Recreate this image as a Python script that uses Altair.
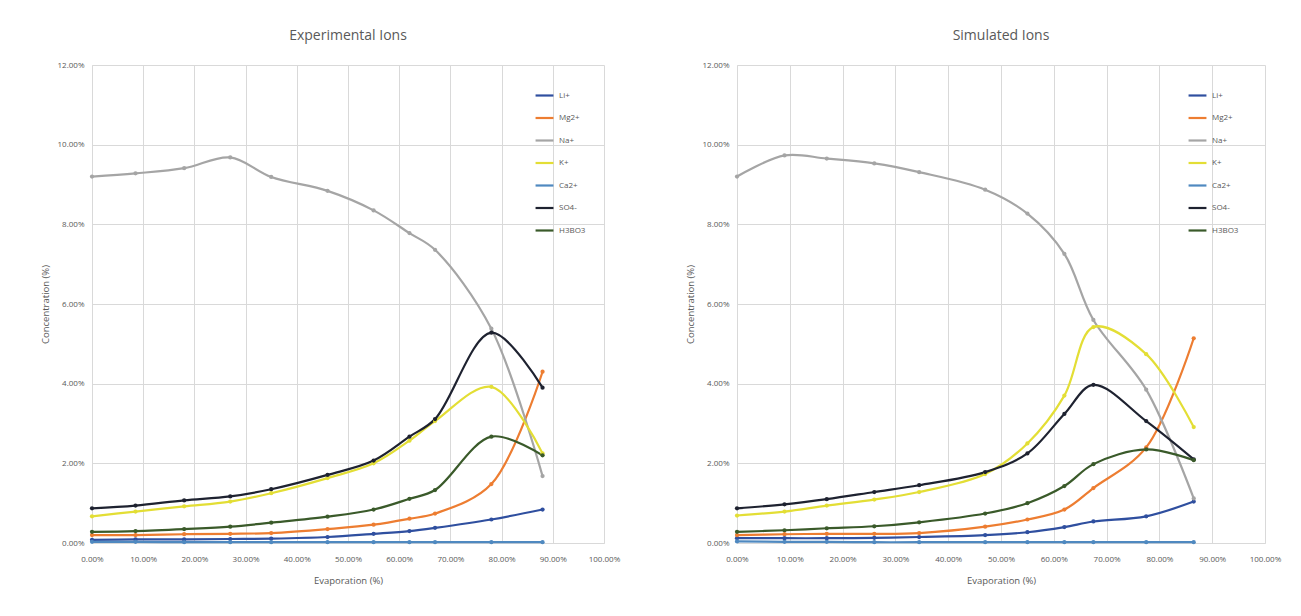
import altair as alt
import pandas as pd

series = ["Li+", "Mg2+", "Na+", "K+", "Ca2+", "SO4-", "H3BO3"]
colors = ["#2F4F9F", "#ED7D31", "#A5A5A5", "#E3DE35", "#4F89C0", "#1E2230", "#3A5A2A"]

# Experimental (values in %)
exp_x = [0, 8.5, 18, 27, 35, 46, 55, 62, 67, 78, 88]
exp_li = [0.08, 0.09, 0.09, 0.10, 0.11, 0.15, 0.23, 0.30, 0.38, 0.59, 0.84]
exp_mg = [0.20, 0.20, 0.22, 0.23, 0.25, 0.35, 0.46, 0.61, 0.74, 1.48, 4.30]
exp_na = [9.20, 9.28, 9.41, 9.68, 9.19, 8.84, 8.35, 7.78, 7.36, 5.38, 1.68]
exp_k = [0.67, 0.79, 0.92, 1.04, 1.25, 1.63, 2.00, 2.57, 3.06, 3.92, 2.25]
exp_ca = [0.03, 0.03, 0.02, 0.02, 0.02, 0.02, 0.02, 0.02, 0.02, 0.02, 0.02]
exp_so4 = [0.87, 0.94, 1.07, 1.17, 1.35, 1.71, 2.07, 2.67, 3.11, 5.28, 3.90]
exp_h3bo3 = [0.28, 0.30, 0.35, 0.41, 0.51, 0.66, 0.84, 1.11, 1.33, 2.67, 2.20]

# Simulated (values in %)
sim_x = [0, 9, 17, 26, 34.5, 47, 55, 62, 67.5, 77.5, 86.5]
sim_li = [0.12, 0.12, 0.12, 0.13, 0.15, 0.20, 0.27, 0.40, 0.54, 0.67, 1.04]
sim_mg = [0.20, 0.22, 0.23, 0.23, 0.25, 0.41, 0.59, 0.84, 1.38, 2.40, 5.14]
sim_na = [9.20, 9.73, 9.65, 9.53, 9.31, 8.87, 8.27, 7.26, 5.60, 3.85, 1.12]
sim_k = [0.69, 0.79, 0.94, 1.09, 1.28, 1.73, 2.50, 3.70, 5.42, 4.74, 2.91]
sim_ca = [0.04, 0.03, 0.03, 0.02, 0.02, 0.02, 0.02, 0.02, 0.02, 0.02, 0.02]
sim_so4 = [0.87, 0.97, 1.10, 1.28, 1.45, 1.78, 2.25, 3.24, 3.97, 3.06, 2.10]
sim_h3bo3 = [0.28, 0.32, 0.37, 0.42, 0.52, 0.74, 1.00, 1.43, 1.98, 2.35, 2.08]


def make_df(xs, cols):
    rows = []
    for name, vals in zip(series, cols):
        for i, (x, v) in enumerate(zip(xs, vals)):
            rows.append({"Evaporation": x / 100, "Conc": v / 100, "Ion": name, "order": i})
    return pd.DataFrame(rows)


exp_df = make_df(exp_x, [exp_li, exp_mg, exp_na, exp_k, exp_ca, exp_so4, exp_h3bo3])
sim_df = make_df(sim_x, [sim_li, sim_mg, sim_na, sim_k, sim_ca, sim_so4, sim_h3bo3])

GRAY = "#595959"
FONT = "Open Sans"


def panel(df, title, w, h, lx):
    return alt.Chart(df, title=alt.Title(title, fontSize=14, fontWeight="normal",
                                         color=GRAY, font=FONT, offset=18)).mark_line(
        interpolate="catmull-rom", strokeWidth=2.2,
        point=alt.OverlayMarkDef(size=18, filled=True),
    ).encode(
        x=alt.X("Evaporation:Q", title="Evaporation (%)",
                scale=alt.Scale(domain=[0, 1], nice=False),
                axis=alt.Axis(format=".2%", values=[i / 10 for i in range(11)],
                              labelFlush=False, labelPadding=12, titlePadding=12)),
        y=alt.Y("Conc:Q", title="Concentration (%)",
                scale=alt.Scale(domain=[0, 0.12], nice=False),
                axis=alt.Axis(format=".2%", values=[i / 50 for i in range(7)],
                              labelFlush=False, labelPadding=8, titlePadding=6)),
        color=alt.Color("Ion:N", scale=alt.Scale(domain=series, range=colors),
                        legend=alt.Legend(title=None, orient="none", legendX=lx, legendY=20,
                                          symbolType="stroke", symbolSize=320, symbolStrokeWidth=2.2,
                                          rowPadding=7.5, labelFontSize=8, labelColor=GRAY,
                                          labelFont=FONT)),
        order="order:Q",
    ).properties(width=w, height=h)


left = panel(exp_df, "Experimental Ions", 512, 478, 442)
right = panel(sim_df, "Simulated Ions", 528, 478, 450)

chart = alt.hconcat(left, right, spacing=65).resolve_scale(color="independent").configure(
    padding={"left": 32, "top": 21, "right": 5, "bottom": 5},
    background="white",
).configure_axis(
    grid=True, gridColor="#D9D9D9", gridWidth=1, domainColor="#D9D9D9", ticks=False,
    labelFontSize=8, labelColor=GRAY, labelFont=FONT,
    titleFontSize=9.5, titleColor=GRAY, titleFont=FONT, titleFontWeight="normal",
).configure_view(stroke=None)

chart.save("out.html", embed_options={"renderer": "svg", "actions": False})
